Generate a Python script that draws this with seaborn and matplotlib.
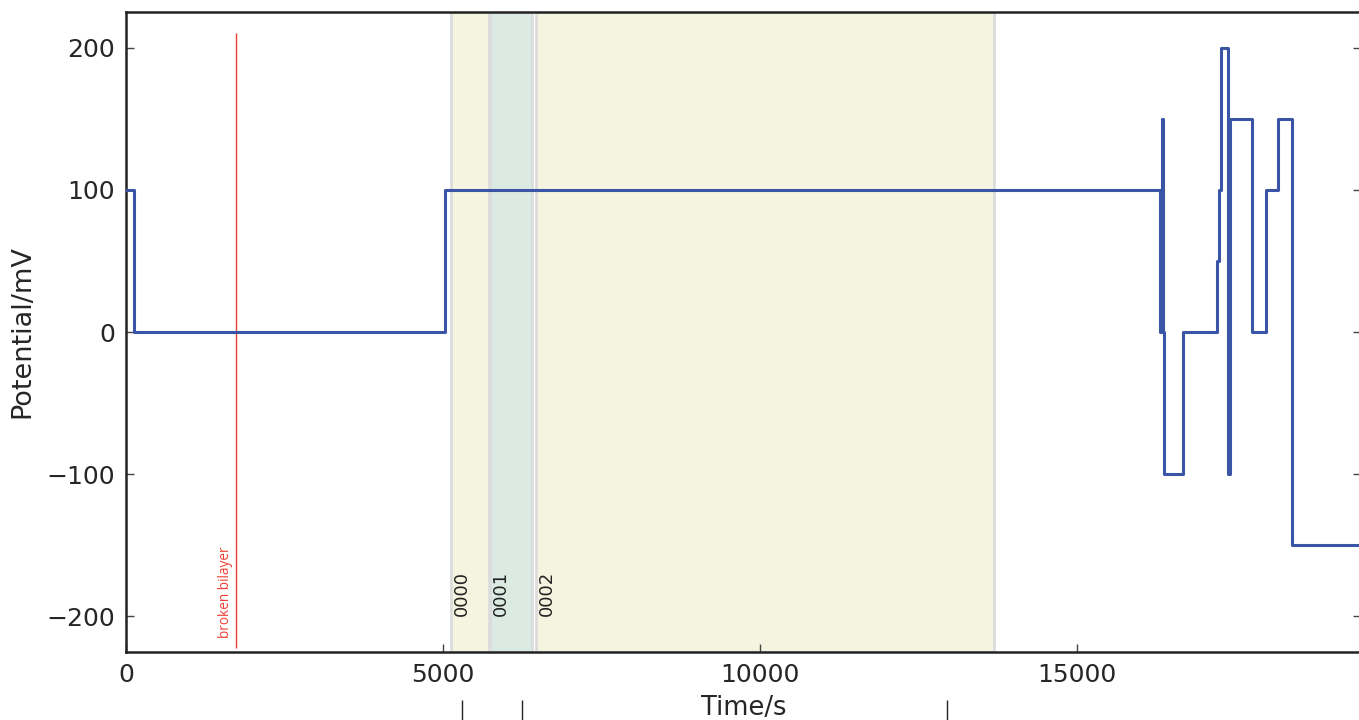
import numpy as np
import matplotlib
matplotlib.use('Agg')
import matplotlib.pyplot as plt
import pandas as pd
import seaborn as sns

# applied potential protocol (step changes), time in s, potential in mV
step_time = [0, 125, 5030, 16310, 16340, 16355, 16370, 16670, 17210, 17240,
             17270, 17380, 17410, 17760, 17980, 18170, 18390, 19480]
step_mv = [100, 0, 100, 0, 150, 0, -100, 0, 50, 100,
           200, -100, 150, 0, 100, 150, -150, -150]

# recorded segments
seg_names = ['0000', '0001', '0002']
seg_start = [5126, 5741, 6467]
seg_end = [5733, 6404, 13691]
seg_colors = ['#f5f4e0', '#dbebe3', '#f5f4e0']

# event marker
event_time = 1735
event_label = 'broken bilayer'

# extra marks below the axis
lower_marks = [5300, 6246, 12950]

x_ticks = [0, 5000, 10000, 15000]
y_ticks = [-200, -100, 0, 100, 200]

sns.set_theme(style='ticks')
plt.rcParams['font.family'] = ['DejaVu Sans']

df = pd.DataFrame({'Time': step_time, 'Potential': step_mv})

fig = plt.figure(figsize=(13.59, 7.2), dpi=100)
ax = fig.add_axes([126/1359, 68/720, (1361-126)/1359, (652-12)/720])

for name, s, e, c in zip(seg_names, seg_start, seg_end, seg_colors):
    ax.axvspan(s, e, facecolor=c, edgecolor='#dcdcdc', linewidth=2, zorder=0)
    ax.text(s + 30, -200, name, rotation=90, ha='left', va='bottom',
            fontsize=13, color='#222222')

ax.vlines(event_time, -222, 210, color='#ee4035', linewidth=1, zorder=2)
ax.text(event_time - 40, -215, event_label, rotation=90, ha='right', va='bottom',
        fontsize=9.8, color='#ee4035', family=['Open Sans', 'DejaVu Sans'])

sns.lineplot(data=df, x='Time', y='Potential', ax=ax, estimator=None, sort=False,
             drawstyle='steps-post', color='#3b55a6', linewidth=2.2, zorder=3)

ax.set_xlim(0, 19480)
ax.set_ylim(-225, 225)
ax.set_xticks(x_ticks)
ax.set_yticks(y_ticks)
ax.set_xlabel('Time/s', fontsize=18.5, labelpad=6)
ax.set_ylabel('Potential/mV', fontsize=19.5, labelpad=8)
ax.tick_params(axis='both', direction='in', length=6, width=1, color='#444444',
               labelsize=18, top=True, right=True, pad=8)
for sp in ax.spines.values():
    sp.set_linewidth(1.8)
    sp.set_color('#222222')
    sp.set_visible(True)

# secondary axis carrying the lower marks
ax2 = ax.twiny()
ax2.set_xlim(ax.get_xlim())
ax2.xaxis.set_ticks_position('bottom')
ax2.spines['bottom'].set_position(('outward', 34.5))
for sp in ax2.spines.values():
    sp.set_visible(False)
ax2.set_xticks(lower_marks)
ax2.set_xticklabels([])
ax2.tick_params(axis='x', direction='out', length=20, width=1, color='#222222')

fig.savefig('out.png', dpi=100)
